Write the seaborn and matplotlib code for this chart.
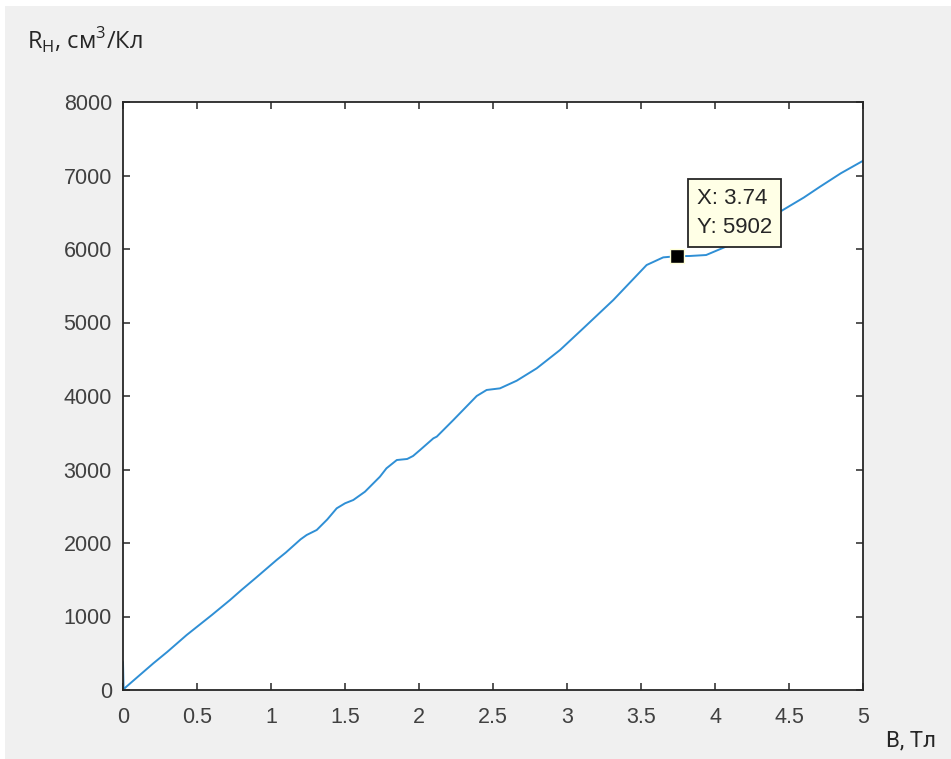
import numpy as np
import pandas as pd
import matplotlib
matplotlib.use("Agg")
import matplotlib.pyplot as plt
import seaborn as sns
from matplotlib.patches import Rectangle

# Данные
B_tl = [0.0, 0.004, 0.02, 0.1, 0.205, 0.3, 0.43, 0.5, 0.6, 0.723, 0.8, 0.9,
        1.038, 1.1, 1.2, 1.241, 1.309, 1.38, 1.444, 1.5, 1.556, 1.635, 1.736,
        1.78, 1.85, 1.92, 1.96, 2.007, 2.097, 2.12, 2.232, 2.39, 2.457, 2.547,
        2.66, 2.795, 2.953, 3.11, 3.313, 3.538, 3.65, 3.74, 3.83, 3.94, 4.10,
        4.25, 4.44, 4.6, 4.71, 4.85, 5.0]
R_h = [380, 10, 40, 180, 363, 520, 748, 860, 1020, 1224, 1360, 1530,
       1769, 1870, 2050, 2109, 2177, 2320, 2472, 2540, 2585, 2698, 2902,
       3016, 3129, 3143, 3184, 3265, 3424, 3447, 3673, 4000, 4082, 4104,
       4208, 4376, 4626, 4921, 5306, 5782, 5886, 5902, 5905, 5918, 6054,
       6280, 6508, 6700, 6848, 7030, 7200]

tip_x, tip_y = 3.74, 5902
x_ticks = [0, 0.5, 1, 1.5, 2, 2.5, 3, 3.5, 4, 4.5, 5]
y_ticks = [0, 1000, 2000, 3000, 4000, 5000, 6000, 7000, 8000]

df = pd.DataFrame({'B': B_tl, 'R': R_h})

sns.set_theme(style='white')
plt.rcParams['font.family'] = ['Liberation Sans', 'DejaVu Sans']

fig = plt.figure(figsize=(9.51, 7.59), dpi=100, facecolor='white')
# серый фон окна (с тонкой белой каймой сверху и слева)
fig.add_artist(Rectangle((5 / 951, 0), 1, 1 - 6 / 759, transform=fig.transFigure,
                         facecolor='#F0F0F0', edgecolor='none', zorder=-10))

ax = fig.add_axes([123 / 951, 69 / 759, 740 / 951, 588 / 759])
ax.set_facecolor('white')

sns.lineplot(data=df, x='B', y='R', ax=ax, color='#2F8FD5', linewidth=1.4,
             sort=False, estimator=None)

ax.set_xlim(0, 5)
ax.set_ylim(0, 8000)
ax.set_xticks(x_ticks)
ax.set_xticklabels([f'{t:g}' for t in x_ticks])
ax.set_yticks(y_ticks)
ax.set_yticklabels([str(t) for t in y_ticks])
ax.set_xlabel('')
ax.set_ylabel('')

for s in ax.spines.values():
    s.set_visible(True)
    s.set_color('#262626')
    s.set_linewidth(1.3)

ax.tick_params(axis='both', direction='in', length=5, width=1.1, color='#262626',
               labelsize=15.5, labelcolor='#404040', top=True, right=True,
               bottom=True, left=True)
ax.tick_params(axis='x', pad=12)
ax.tick_params(axis='y', pad=8)
ax.grid(False)

# метка данных
ax.plot([tip_x], [tip_y], marker='s', markersize=10.5, color='black',
        markeredgecolor='#FFFFD8', markeredgewidth=1.0, zorder=5)
ax.annotate(f'X: {tip_x:.2f}\nY: {tip_y}', xy=(tip_x, tip_y),
            xytext=(15, 13), textcoords='offset points', ha='left', va='bottom',
            fontsize=16, color='#262626', linespacing=1.5,
            bbox=dict(boxstyle='square,pad=0.4', facecolor='#FFFFE6',
                      edgecolor='#262626', linewidth=1.3), zorder=6)

fig.text(27 / 951, 1 - 50 / 759, 'R$_\\mathregular{H}$, см$^\\mathregular{3}$/Кл',
         fontsize=17, color='#262626', family=['Open Sans', 'DejaVu Sans'],
         ha='left', va='baseline')
fig.text(886 / 951, 1 - 746 / 759, 'B, Тл', fontsize=16, color='#262626',
         family=['Roboto', 'DejaVu Sans'], ha='left', va='baseline')

fig.savefig('out.png', dpi=100, facecolor=fig.get_facecolor())
